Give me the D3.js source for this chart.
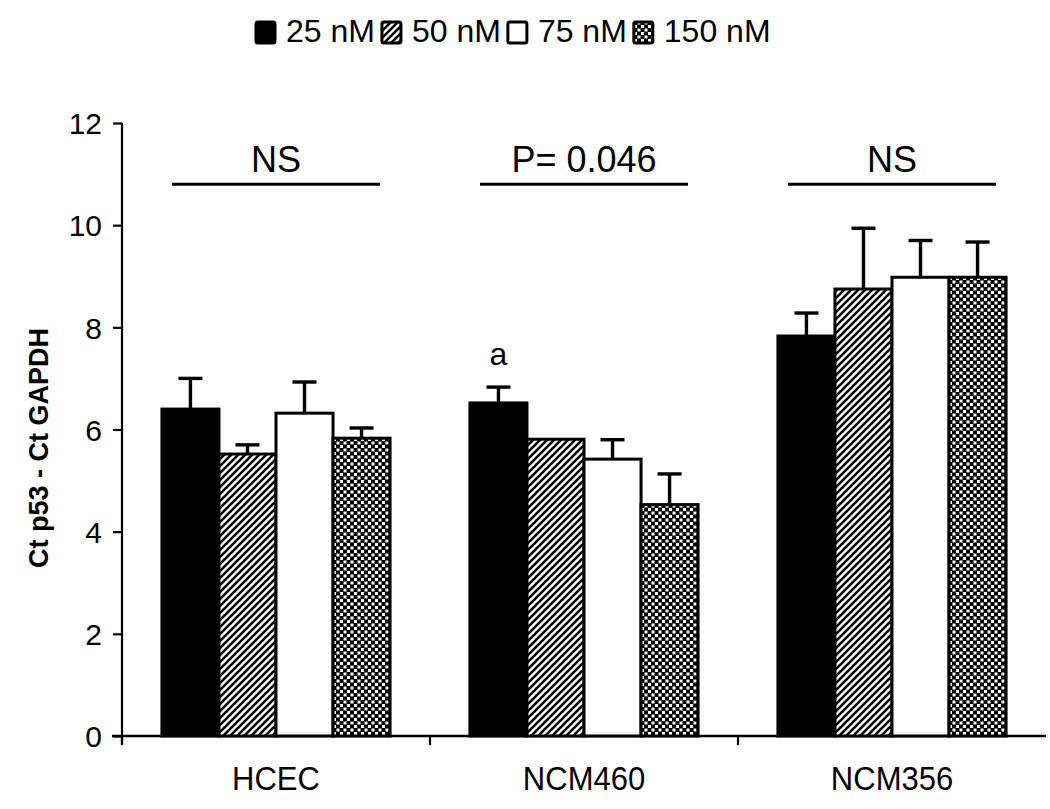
<!DOCTYPE html>
<html>
<head>
<meta charset="utf-8">
<script src="https://cdn.jsdelivr.net/npm/d3@7"></script>
<style>
  html, body { margin: 0; padding: 0; background: #fff; }
  svg { display: block; font-family: "Liberation Sans", Arial, sans-serif; }
</style>
</head>
<body>
<svg id="chart" width="1050" height="809"></svg>
<script>
// ---- data ----
const categories = ["HCEC", "NCM460", "NCM356"];
const seriesNames = ["25 nM", "50 nM", "75 nM", "150 nM"];
const values25  = [6.40, 6.52, 7.83];
const values50  = [5.52, 5.81, 8.75];
const values75  = [6.32, 5.42, 8.98];
const values150 = [5.83, 4.53, 8.98];
const err25  = [0.60, 0.31, 0.45];
const err50  = [0.18, 0.00, 1.19];
const err75  = [0.61, 0.38, 0.72];
const err150 = [0.20, 0.60, 0.69];
const sigLabels = ["NS", "P= 0.046", "NS"];
const yTicks = [0, 2, 4, 6, 8, 10, 12];
const annotation = { category: "NCM460", series: "25 nM", text: "a" };

const seriesValues = [values25, values50, values75, values150];
const seriesErrors = [err25, err50, err75, err150];

const svg = d3.select("#chart");
const defs = svg.append("defs");

// patterns
const hatch = defs.append("pattern").attr("id", "hatch")
  .attr("patternUnits", "userSpaceOnUse").attr("width", 7).attr("height", 7);
hatch.append("rect").attr("width", 7).attr("height", 7).attr("fill", "#fff");
hatch.append("path").attr("d", "M-1,1 L1,-1 M0,7 L7,0 M6,8 L8,6")
  .attr("stroke", "#000").attr("stroke-width", 2.6);

const checker = defs.append("pattern").attr("id", "checker")
  .attr("patternUnits", "userSpaceOnUse").attr("width", 7).attr("height", 7);
checker.append("rect").attr("width", 7).attr("height", 7).attr("fill", "#000");
checker.append("rect").attr("x", 0.5).attr("y", 0.5).attr("width", 3).attr("height", 3).attr("fill", "#fff");
checker.append("rect").attr("x", 4).attr("y", 4).attr("width", 3).attr("height", 3).attr("fill", "#fff");

const fills = ["#000", "url(#hatch)", "#fff", "url(#checker)"];

// scales
const y = d3.scaleLinear().domain([0, 12]).range([736, 123]);
const x0 = d3.scaleBand().domain(categories).range([122, 1046]);
const x1 = d3.scaleBand().domain(seriesNames).range([0, x0.bandwidth()])
  .paddingInner(0).paddingOuter(0.7);

// axes
const yAxis = d3.axisLeft(y).tickValues(yTicks).tickSize(9).tickPadding(11).tickFormat(d3.format("d"));
const gy = svg.append("g").attr("transform", "translate(122,0)").call(yAxis);
gy.select(".domain").attr("stroke-width", 2.2).attr("d", "M0,123V744");
gy.selectAll(".tick line").attr("stroke-width", 2.2);
gy.selectAll(".tick text").attr("font-size", 30).attr("fill", "#000").attr("dy", "0.36em");

// x axis line + category ticks
const gx = svg.append("g");
gx.append("line").attr("x1", 112).attr("x2", 1046).attr("y1", y(0)).attr("y2", y(0))
  .attr("stroke", "#000").attr("stroke-width", 2.4);
categories.forEach(c => {
  gx.append("line").attr("x1", x0(c)).attr("x2", x0(c)).attr("y1", y(0)).attr("y2", y(0) + 9)
    .attr("stroke", "#000").attr("stroke-width", 2.2);
  gx.append("text")
    .attr("transform", `translate(${x0(c) + x0.bandwidth() / 2},790) scale(1,1.1)`)
    .attr("text-anchor", "middle").attr("font-size", 31).text(c);
});

// bars
const data = [];
categories.forEach((c, ci) => {
  seriesNames.forEach((s, si) => {
    data.push({ c, s, si, v: seriesValues[si][ci], e: seriesErrors[si][ci] });
  });
});

const bars = svg.append("g");
bars.selectAll("rect").data(data).join("rect")
  .attr("x", d => x0(d.c) + x1(d.s))
  .attr("y", d => y(d.v))
  .attr("width", x1.bandwidth())
  .attr("height", d => y(0) - y(d.v))
  .attr("fill", d => fills[d.si])
  .attr("stroke", "#000").attr("stroke-width", 3);

// error bars
const eb = svg.append("g").attr("stroke", "#000").attr("stroke-width", 3.4);
data.filter(d => d.e > 0).forEach(d => {
  const cx = x0(d.c) + x1(d.s) + x1.bandwidth() / 2;
  eb.append("line").attr("x1", cx).attr("x2", cx).attr("y1", y(d.v)).attr("y2", y(d.v + d.e));
  eb.append("line").attr("x1", cx - 12).attr("x2", cx + 12).attr("y1", y(d.v + d.e)).attr("y2", y(d.v + d.e));
});

// significance lines and labels
categories.forEach((c, ci) => {
  const cx = x0(c) + x1(seriesNames[0]) + (x1.step() * seriesNames.length) / 2;
  svg.append("line").attr("x1", cx - 104).attr("x2", cx + 104)
    .attr("y1", y(10.8)).attr("y2", y(10.8))
    .attr("stroke", "#000").attr("stroke-width", 3);
  svg.append("text").attr("x", cx).attr("y", y(11.05))
    .attr("text-anchor", "middle").attr("font-size", 36).text(sigLabels[ci]);
});

// annotation "a"
{
  const ci = categories.indexOf(annotation.category);
  const si = seriesNames.indexOf(annotation.series);
  const v = seriesValues[si][ci] + seriesErrors[si][ci];
  svg.append("text")
    .attr("x", x0(annotation.category) + x1(annotation.series) + x1.bandwidth() / 2)
    .attr("y", y(v) - 22)
    .attr("text-anchor", "middle").attr("font-size", 32).text(annotation.text);
}

// y axis title
svg.append("text")
  .attr("transform", "translate(48,448) rotate(-90)")
  .attr("text-anchor", "middle").attr("font-size", 27).attr("font-weight", "bold")
  .text("Ct p53 - Ct GAPDH");

// legend
const leg = svg.append("g");
let lx = 256;
seriesNames.forEach((s, si) => {
  leg.append("rect").attr("x", lx).attr("y", 22).attr("width", 19).attr("height", 21)
    .attr("rx", 2).attr("fill", fills[si]).attr("stroke", "#000").attr("stroke-width", 3);
  const t = leg.append("text").attr("x", lx + 30).attr("y", 42).attr("font-size", 32).text(s);
  const w = t.node().getComputedTextLength();
  lx = lx + 30 + w + 7;
});
</script>
</body>
</html>
